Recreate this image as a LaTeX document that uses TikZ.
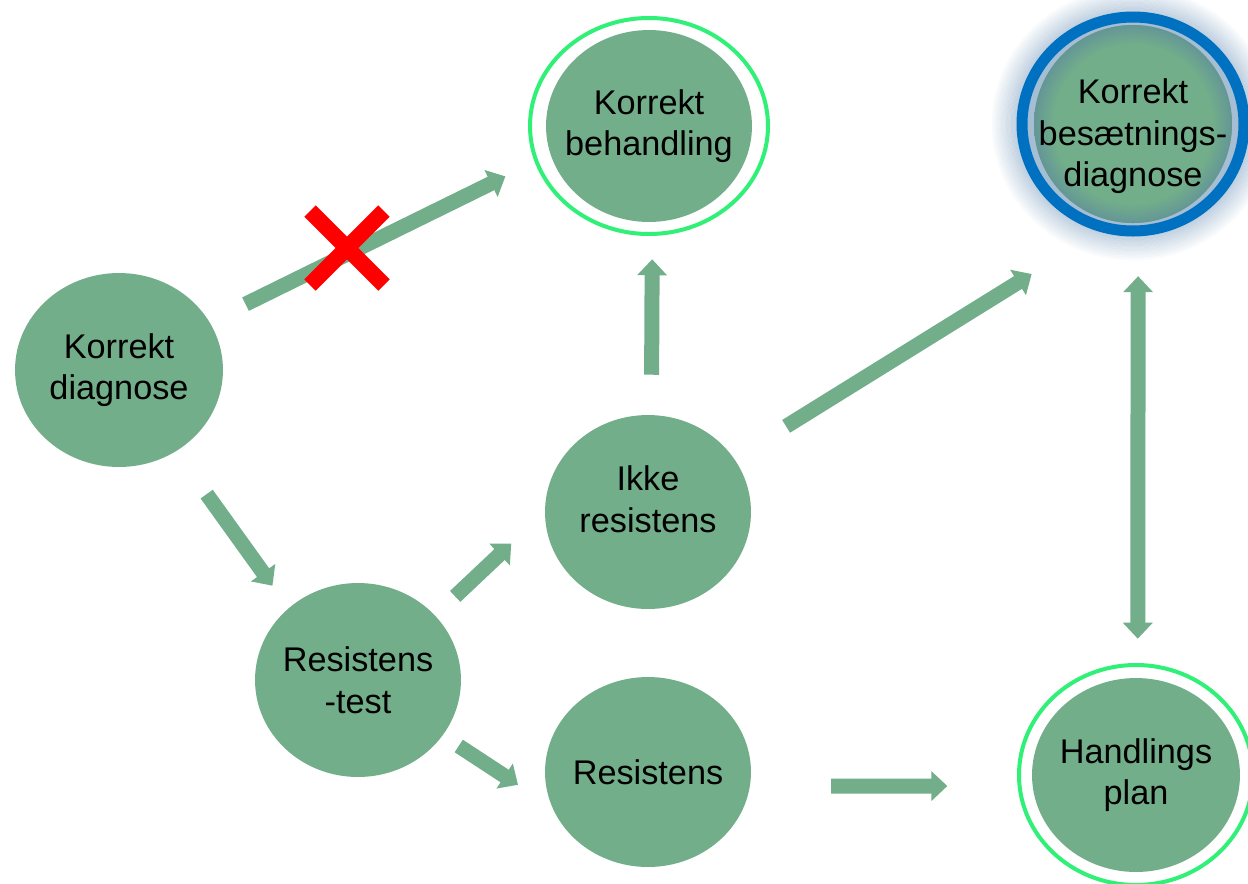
\documentclass[tikz,border=0pt]{standalone}
\usepackage{fontspec}
\setmainfont{Liberation Sans}
\usetikzlibrary{arrows.meta,shapes.geometric,backgrounds}
\definecolor{stagegreen}{RGB}{114,174,138}
\definecolor{ringgreen}{RGB}{48,240,120}
\definecolor{herdblue}{RGB}{0,112,192}
\definecolor{haloblue}{RGB}{120,155,190}
\definecolor{gapblue}{RGB}{165,190,212}
\definecolor{rimshade}{RGB}{100,150,150}
\definecolor{vetored}{RGB}{255,0,0}
\pgfdeclareradialshading{herdfill}{\pgfpoint{0bp}{0bp}}{color(0bp)=(stagegreen); color(20bp)=(stagegreen); color(25bp)=(rimshade); color(50bp)=(rimshade)}
\tikzset{
    stage/.style={ellipse, fill=stagegreen, inner xsep=-0.6cm, inner ysep=0pt, align=center, font=\fontsize{19.5}{23.7}\selectfont, minimum width=4.12cm, minimum height=3.88cm},
    goal ring/.style={draw=ringgreen, line width=0.08cm},
    herd ring/.style={draw=herdblue, line width=0.22cm},
    flow arrow/.style={-{Triangle[width=0.58cm, length=0.32cm]}, line width=0.3cm, draw=stagegreen},
    both arrow/.style={flow arrow, {Triangle[width=0.58cm, length=0.32cm]}-{Triangle[width=0.58cm, length=0.32cm]}},
    veto cross/.style={draw=vetored, line width=0.32cm}
}
\begin{document}
\begin{tikzpicture}[x=0.02cm, y=-0.02cm]
\useasboundingbox (0,0) rectangle (1248,883);
% Main nodes
\node[stage, minimum width=4.16cm] (diag) at (119,370) {Korrekt\\diagnose};
\node[stage, minimum height=3.84cm] (behand) at (649,126) {Korrekt\\behandling};
\node[stage, shade, shading=herdfill, minimum width=3.96cm, minimum height=3.84cm] (besaet) at (1133,124) {\mbox{}\\[0.16cm]Korrekt\\besætnings-\\diagnose};
\node[stage] (ikke) at (648,512) {Ikke\\resistens\\[-0.32cm]\mbox{}};
\node[stage] (test) at (358,680) {Resistens\\-test};
\node[stage, minimum height=3.8cm] (resis) at (648,772) {Resistens};
\node[stage, minimum width=4.16cm] (handl) at (1136,775) {Handlings\\plan};

% Rings
\draw[goal ring] (behand.center) ellipse (119 and 108);
\draw[goal ring] (handl.center) ellipse (117 and 110);
\begin{scope}[on background layer]
\foreach \g in {1,...,10}
    \draw[haloblue, line width=0.05cm, opacity={0.5-0.045*\g}] (besaet.center) ellipse ({115+2.5*\g} and {110+2.5*\g});
\fill[gapblue] (besaet.center) ellipse (110 and 106);
\draw[herd ring] (besaet.center) ellipse (111 and 107);
\end{scope}

% Arrows
\draw[flow arrow, shorten <=0.8cm, shorten >=1.0cm] (diag.28) -- (behand.196);
\draw[flow arrow, shorten <=1.05cm, shorten >=0.55cm] (diag.305) -- (test.134);
\draw[flow arrow, shorten <=0.55cm, shorten >=0.92cm] (test.40) -- (ikke.west);
\draw[flow arrow, shorten <=0.38cm, shorten >=0.81cm] (test) -- (resis.200);
\draw[flow arrow, shorten <=0.8cm, shorten >=0.74cm] (ikke.88) -- (behand.272);
\draw[flow arrow, shorten <=1.22cm, shorten >=1.98cm] (ikke) -- (besaet.260);
\draw[flow arrow, shorten <=1.62cm, shorten >=1.7cm] (resis.-8) -- (handl.186);
\draw[both arrow, shorten <=1.06cm, shorten >=0.78cm] (besaet.273) -- (handl.89);

% Crossed out path
\coordinate (veto) at (347,248);
\draw[veto cross] (veto) +(-37,-37) -- +(37,37) +(-37,37) -- +(37,-37);
\end{tikzpicture}
\end{document}
